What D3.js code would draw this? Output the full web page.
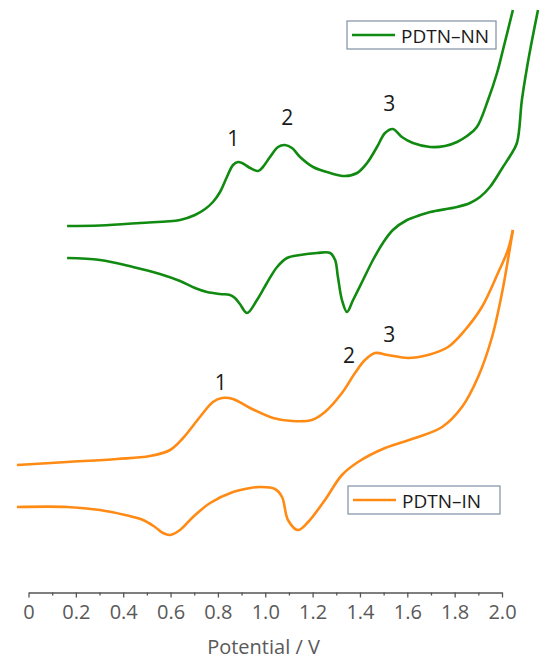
<!DOCTYPE html>
<html>
<head>
<meta charset="utf-8">
<script src="https://cdn.jsdelivr.net/npm/d3@7"></script>
<style>
  html, body { margin: 0; padding: 0; background: #fff; }
  svg { display: block; font-family: "Open Sans", "Noto Sans", sans-serif; }
</style>
</head>
<body>
<svg id="chart" width="550" height="667"></svg>
<script>
// ---- Data (potential in V, current in arbitrary offset units) ----
const seriesNames = ["PDTN–NN", "PDTN–IN"];
const seriesColors = ["#118a11", "#ff8a14"];

// PDTN–NN forward (anodic) scan
const nnForward = [
  [0.163, 37.4], [0.302, 37.45], [0.471, 37.7], [0.640, 38.0], [0.703, 38.5],
  [0.746, 39.1], [0.779, 39.8], [0.809, 40.8], [0.838, 42.3], [0.864, 43.5],
  [0.885, 43.8], [0.902, 43.7], [0.936, 43.2], [0.970, 42.9], [0.990, 43.3],
  [1.020, 44.3], [1.054, 45.3], [1.083, 45.5], [1.113, 45.2], [1.147, 44.3],
  [1.202, 43.3], [1.274, 42.7], [1.337, 42.4], [1.388, 42.7], [1.430, 43.7],
  [1.472, 45.3], [1.506, 46.7], [1.539, 47.1], [1.577, 46.3], [1.624, 45.7],
  [1.697, 45.3], [1.759, 45.4], [1.810, 45.8], [1.852, 46.4], [1.894, 47.3],
  [1.941, 50.0], [1.979, 52.7], [2.004, 55.0], [2.046, 59.0]
];
// PDTN–NN reverse (cathodic) scan
const nnReverse = [
  [2.152, 59.0], [2.127, 56.0], [2.106, 53.3], [2.084, 50.0], [2.063, 45.7],
  [2.034, 44.4], [2.004, 43.3], [1.949, 41.3], [1.907, 40.3], [1.865, 39.7],
  [1.810, 39.3], [1.697, 38.8], [1.655, 38.5], [1.599, 38.0], [1.539, 37.0],
  [1.497, 35.7], [1.455, 34.0], [1.413, 32.0], [1.371, 30.0], [1.345, 28.8],
  [1.324, 30.0], [1.307, 32.3], [1.295, 34.0], [1.274, 34.7], [1.219, 34.7],
  [1.147, 34.5], [1.092, 34.2], [1.050, 33.3], [1.007, 31.7], [0.965, 30.0],
  [0.923, 28.7], [0.893, 29.6], [0.872, 30.2], [0.851, 30.5], [0.809, 30.6],
  [0.754, 30.8], [0.703, 31.2], [0.640, 31.9], [0.555, 32.6], [0.441, 33.3],
  [0.302, 34.0], [0.163, 34.2]
];
// PDTN–IN forward scan
const inForward = [
  [-0.049, 13.5], [0.163, 13.8], [0.374, 14.1], [0.513, 14.4], [0.598, 15.0],
  [0.653, 16.2], [0.724, 18.3], [0.779, 19.8], [0.817, 20.2], [0.864, 20.1],
  [0.936, 19.2], [1.033, 18.2], [1.113, 17.9], [1.197, 18.0], [1.252, 18.8],
  [1.324, 20.7], [1.379, 22.7], [1.421, 24.0], [1.464, 24.7], [1.518, 24.5],
  [1.603, 24.2], [1.687, 24.5], [1.772, 25.3], [1.844, 27.0], [1.915, 29.3],
  [1.983, 32.7], [2.025, 35.0], [2.046, 37.0]
];
// PDTN–IN reverse scan
const inReverse = [
  [2.046, 37.0], [2.025, 34.0], [2.000, 30.7], [1.958, 26.3], [1.899, 22.3],
  [1.831, 19.3], [1.747, 17.3], [1.633, 16.2], [1.506, 15.2], [1.392, 13.8],
  [1.324, 12.5], [1.252, 10.0], [1.181, 7.8], [1.138, 7.0], [1.096, 8.0],
  [1.071, 10.3], [1.041, 11.1], [0.978, 11.3], [0.936, 11.2], [0.864, 10.8],
  [0.767, 9.7], [0.695, 8.3], [0.640, 7.0], [0.598, 6.5], [0.568, 6.7],
  [0.534, 7.3], [0.484, 8.0], [0.408, 8.5], [0.302, 9.0], [0.163, 9.3],
  [-0.049, 9.3]
];

// Peak annotations [potential, current (baseline), label]
const nnPeakLabels = [[0.865, 45.4, "1"], [1.093, 47.5, "2"], [1.524, 48.9, "3"]];
const inPeakLabels = [[0.812, 21.0, "1"], [1.354, 23.7, "2"], [1.524, 25.8, "3"]];

const xTickValues = [0, 0.2, 0.4, 0.6, 0.8, 1.0, 1.2, 1.4, 1.6, 1.8, 2.0];
const xTickLabels = ["0", "0.2", "0.4", "0.6", "0.8", "1.0", "1.2", "1.4", "1.6", "1.8", "2.0"];
const xMinorTicks = [0.1, 0.3, 0.5, 0.7, 0.9, 1.1, 1.3, 1.5, 1.7, 1.9];
const xTitle = "Potential / V";

// ---- Drawing ----
const svg = d3.select("#chart");
const x = d3.scaleLinear().domain([0, 2]).range([28.5, 502]);
const y = d3.scaleLinear().domain([0, 60]).range([600, 0]);
const axisY = 592.5;

const line = d3.line()
  .x(d => x(d[0]))
  .y(d => y(d[1]))
  .curve(d3.curveCatmullRom.alpha(0.5));

const curves = [
  [nnForward, 0], [nnReverse, 0], [inForward, 1], [inReverse, 1]
];
svg.append("g").selectAll("path").data(curves).join("path")
  .attr("d", d => line(d[0]))
  .attr("fill", "none")
  .attr("stroke", d => seriesColors[d[1]])
  .attr("stroke-width", 2.6)
  .attr("stroke-linejoin", "round")
  .attr("stroke-linecap", "butt");

// Peak labels
const peakG = svg.append("g")
  .attr("font-size", 21).attr("fill", "#1a1a1a").attr("text-anchor", "middle");
peakG.selectAll("text.nn").data(nnPeakLabels).join("text")
  .attr("class", "nn")
  .attr("x", d => x(d[0])).attr("y", d => y(d[1]))
  .text(d => d[2]);
peakG.selectAll("text.in").data(inPeakLabels).join("text")
  .attr("class", "in")
  .attr("x", d => x(d[0])).attr("y", d => y(d[1]))
  .text(d => d[2]);

// X axis
const axisColor = "#555";
const xAxis = d3.axisBottom(x)
  .tickValues(xTickValues)
  .tickFormat((d, i) => xTickLabels[i])
  .tickSize(5)
  .tickPadding(7.5)
  .tickSizeOuter(0);
const gx = svg.append("g").attr("transform", `translate(0,${axisY})`).call(xAxis);
gx.select(".domain").attr("stroke", axisColor).attr("stroke-width", 1.3);
gx.selectAll(".tick line").attr("stroke", axisColor).attr("stroke-width", 1.3);
gx.selectAll(".tick text")
  .attr("fill", "#595959")
  .attr("font-size", 20)
  .attr("font-family", "'Open Sans', 'Noto Sans', sans-serif");

const xMinor = d3.axisBottom(x).tickValues(xMinorTicks).tickSize(3).tickFormat("").tickSizeOuter(0);
const gm = svg.append("g").attr("transform", `translate(0,${axisY})`).call(xMinor);
gm.select(".domain").remove();
gm.selectAll(".tick line").attr("stroke", axisColor).attr("stroke-width", 1.3);

svg.append("text")
  .attr("x", 263.5).attr("y", 654)
  .attr("text-anchor", "middle")
  .attr("font-size", 20)
  .attr("fill", "#595959")
  .text(xTitle);

// Legends
const legends = [
  { name: seriesNames[0], color: seriesColors[0], bx: 347, by: 21, bw: 149, bh: 28 },
  { name: seriesNames[1], color: seriesColors[1], bx: 348, by: 486, bw: 152, bh: 28 }
];
const lg = svg.append("g").selectAll("g").data(legends).join("g")
  .attr("transform", d => `translate(${d.bx},${d.by})`);
lg.append("rect")
  .attr("width", d => d.bw).attr("height", d => d.bh)
  .attr("fill", "#fff").attr("stroke", "#7f8fa6").attr("stroke-width", 1.2);
lg.append("line")
  .attr("x1", 5).attr("x2", 48)
  .attr("y1", d => d.bh / 2).attr("y2", d => d.bh / 2)
  .attr("stroke", d => d.color).attr("stroke-width", 2.6);
lg.append("text")
  .attr("x", 54).attr("y", d => d.bh / 2 + 7.5)
  .attr("font-size", 19).attr("fill", "#1a1a1a")
  .text(d => d.name);
</script>
</body>
</html>
